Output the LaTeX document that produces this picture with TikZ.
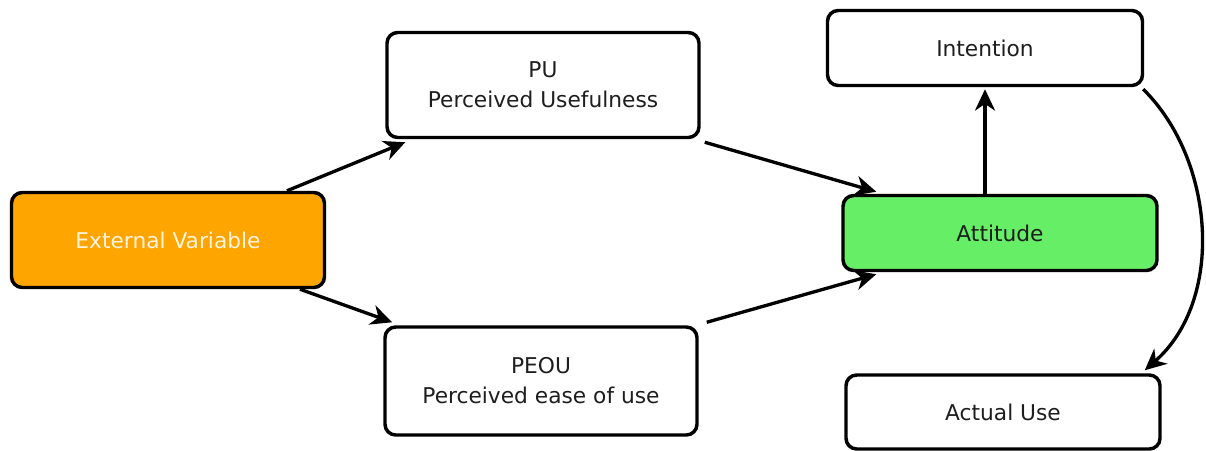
\documentclass[tikz,border=0pt]{standalone}
\usepackage{fontspec}
\setmainfont{DejaVu Sans}
\usetikzlibrary{arrows.meta}
\definecolor{orangefill}{HTML}{FFA500}
\definecolor{greenfill}{HTML}{66EE66}
\definecolor{txt}{HTML}{1E1E1E}
\definecolor{lighttxt}{HTML}{FFF3DA}
\tikzset{
  box/.style={draw=black, line width=2.6pt, rounded corners=8pt, fill=white, inner sep=0pt,
    align=center, text=txt, font=\fontsize{16.3}{22.5}\selectfont},
  conn/.style={line width=2.5pt, -{Stealth[length=16pt,width=15pt,inset=5pt]}},
}
\begin{document}
\begin{tikzpicture}[x=0.75pt,y=-0.75pt]
\useasboundingbox (0,0) rectangle (1206,450);
\node[box, fill=orangefill, text=lighttxt, minimum width=313*0.75pt, minimum height=95*0.75pt] (ext) at (168,240) {External Variable};
\node[box, minimum width=312*0.75pt, minimum height=105*0.75pt] (pu) at (543,85) {PU\\Perceived Usefulness};
\node[box, minimum width=312*0.75pt, minimum height=108*0.75pt] (peou) at (541,381) {PEOU\\Perceived ease of use};
\node[box, fill=greenfill, minimum width=314*0.75pt, minimum height=75*0.75pt] (att) at (1000,233) {Attitude};
\node[box, minimum width=315*0.75pt, minimum height=75*0.75pt] (int) at (985,48) {Intention};
\node[box, minimum width=314*0.75pt, minimum height=74*0.75pt] (use) at (1003,412) {Actual Use};
\draw[conn] ([xshift=119*0.75pt]ext.north) -- ([xshift=20*0.75pt,yshift=-3*0.75pt]pu.south west);
\draw[conn] ([xshift=132*0.75pt]ext.south) -- ([xshift=9*0.75pt,yshift=3*0.75pt]peou.north west);
\draw[conn] ([xshift=4*0.75pt,yshift=-3*0.75pt]pu.south east) -- ([xshift=35*0.75pt,yshift=2*0.75pt]att.north west);
\draw[conn] ([xshift=8*0.75pt,yshift=3*0.75pt]peou.north east) -- ([xshift=35*0.75pt,yshift=-2*0.75pt]att.south west);
\draw[conn] ([xshift=-15*0.75pt]att.north) -- ([yshift=-2*0.75pt]int.south);
\draw[conn] ([xshift=-1*0.75pt,yshift=-2*0.75pt]int.south east) .. controls (1215,160) and (1225,300) .. ([xshift=-17*0.75pt,yshift=3*0.75pt]use.north east);
\end{tikzpicture}
\end{document}
